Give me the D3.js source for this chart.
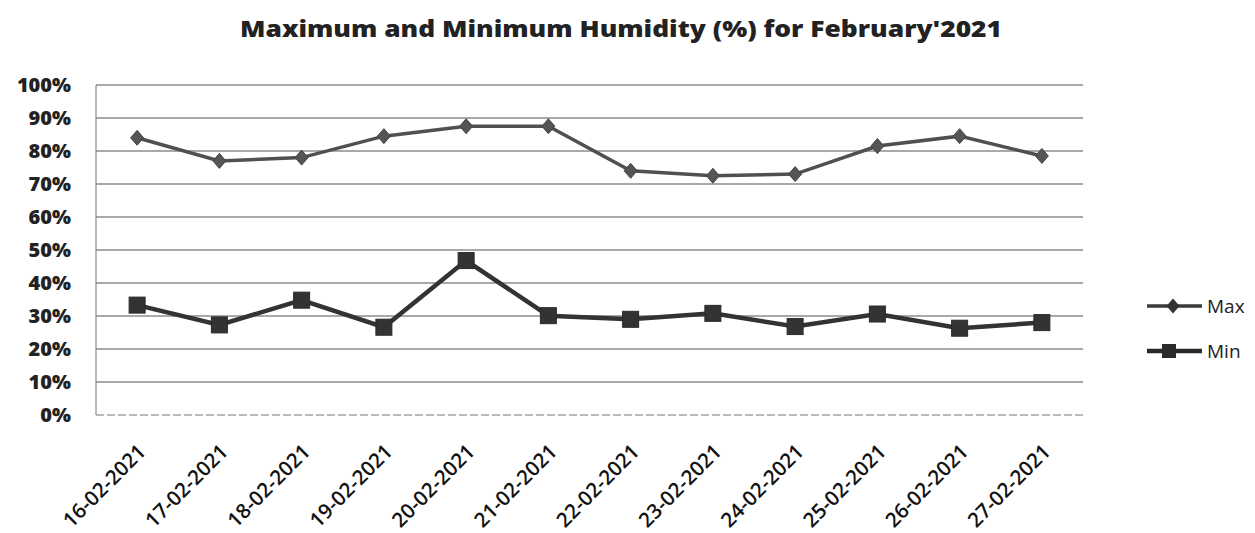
<!DOCTYPE html>
<html><head><meta charset="utf-8">
<script src="https://cdn.jsdelivr.net/npm/d3@7/dist/d3.min.js"></script>
<style>body{margin:0;background:#fff;} svg{display:block;}</style>
</head><body>
<svg id="chart" width="1255" height="533"></svg>
<script>
const dates = ["16-02-2021","17-02-2021","18-02-2021","19-02-2021","20-02-2021","21-02-2021","22-02-2021","23-02-2021","24-02-2021","25-02-2021","26-02-2021","27-02-2021"];
const maxValues = [84, 77, 78, 84.5, 87.5, 87.5, 74, 72.5, 73, 81.5, 84.5, 78.5];
const minValues = [33.3, 27.3, 34.8, 26.6, 46.8, 30.1, 29, 30.8, 26.8, 30.6, 26.3, 28];
const yTicks = [0,10,20,30,40,50,60,70,80,90,100];
const title = "Maximum and Minimum Humidity (%) for February'2021";

(function(){
const svg = d3.select("#chart");
const pL = 96, pR = 1083, pT = 85, pB = 415;
const x = d3.scaleBand().domain(dates).range([pL, pR]);
const y = d3.scaleLinear().domain([0,100]).range([pB, pT]);
const cx = d => x(d) + x.bandwidth()/2;

svg.append("text").attr("x", 621).attr("y", 37).attr("text-anchor","middle")
  .attr("font-family","'Open Sans', sans-serif").attr("font-weight","800")
  .attr("font-size", 23).attr("fill","#222")
  .attr("textLength", 762).attr("lengthAdjust","spacingAndGlyphs").text(title);

// gridlines
svg.append("g").selectAll("line").data(yTicks.filter(t=>t>0)).join("line")
  .attr("x1", pL).attr("x2", pR).attr("y1", d=>y(d)).attr("y2", d=>y(d))
  .attr("stroke","#555").attr("stroke-width",1.2);
// axis lines
svg.append("line").attr("x1",pL).attr("x2",pL).attr("y1",pT).attr("y2",pB)
  .attr("stroke","#777").attr("stroke-width",1);
svg.append("line").attr("x1",pL).attr("x2",pR).attr("y1",pB).attr("y2",pB)
  .attr("stroke","#777").attr("stroke-width",1).attr("stroke-dasharray","8,3");

// y axis labels
const yAxis = d3.axisLeft(y).tickValues(yTicks).tickFormat(d=>d+"%").tickSize(0).tickPadding(25);
const gy = svg.append("g").attr("transform",`translate(${pL},0)`).call(yAxis);
gy.select(".domain").remove();
gy.selectAll("text").attr("font-family","'Open Sans', sans-serif").attr("font-weight","800")
  .attr("font-size",20).attr("fill","#222");

// x axis labels
const xAxis = d3.axisBottom(x).tickSize(0).tickPadding(0);
const gx = svg.append("g").attr("transform",`translate(0,${pB})`).call(xAxis);
gx.select(".domain").remove();
gx.selectAll("text").attr("font-family","'Open Sans', sans-serif").attr("font-weight","600")
  .attr("font-size",20.5).attr("fill","#111")
  .attr("text-anchor","end").attr("dy",0).attr("y",0)
  .attr("transform","translate(10,38) rotate(-45)");

// lines
const line = d3.line().x((d,i)=>cx(dates[i])).y(d=>y(d));
svg.append("path").datum(maxValues).attr("d", line).attr("fill","none")
  .attr("stroke","#505050").attr("stroke-width",3.5);
svg.append("path").datum(minValues).attr("d", line).attr("fill","none")
  .attr("stroke","#333").attr("stroke-width",4.5);

const diamondType = {draw(ctx, s){ const w = 6.5, h = 7.5; ctx.moveTo(0,-h); ctx.lineTo(w,0); ctx.lineTo(0,h); ctx.lineTo(-w,0); ctx.closePath(); }};
const diamond = d3.symbol().type(diamondType);
svg.append("g").selectAll("path").data(maxValues).join("path")
  .attr("d", diamond).attr("transform",(d,i)=>`translate(${cx(dates[i])},${y(d)})`)
  .attr("fill","#555").attr("stroke","#444").attr("stroke-width",1);
svg.append("g").selectAll("rect").data(minValues).join("rect")
  .attr("x",(d,i)=>cx(dates[i])-8).attr("y",d=>y(d)-8).attr("width",16).attr("height",16)
  .attr("fill","#333").attr("stroke","#2a2a2a").attr("stroke-width",1);

// legend
const legend = [{name:"Max", marker:"diamond", w:3.5, c:"#3a3a3a"},{name:"Min", marker:"square", w:4.5, c:"#2a2a2a"}];
const lg = svg.append("g").selectAll("g").data(legend).join("g")
  .attr("transform",(d,i)=>`translate(1147,${306+i*45})`);
lg.append("line").attr("x1",0).attr("x2",55).attr("stroke",d=>d.c).attr("stroke-width",d=>d.w);
lg.each(function(d){
  const g = d3.select(this);
  if(d.marker==="diamond") g.append("path").attr("d", diamond()).attr("transform","translate(26,0)").attr("fill","#333");
  else g.append("rect").attr("x",15).attr("y",-7).attr("width",14).attr("height",14).attr("fill","#2a2a2a");
});
lg.append("text").attr("x",60).attr("y",7).attr("font-family","'Open Sans', sans-serif")
  .attr("font-size",19).attr("fill","#222").text(d=>d.name);
})();
</script>
</body></html>
